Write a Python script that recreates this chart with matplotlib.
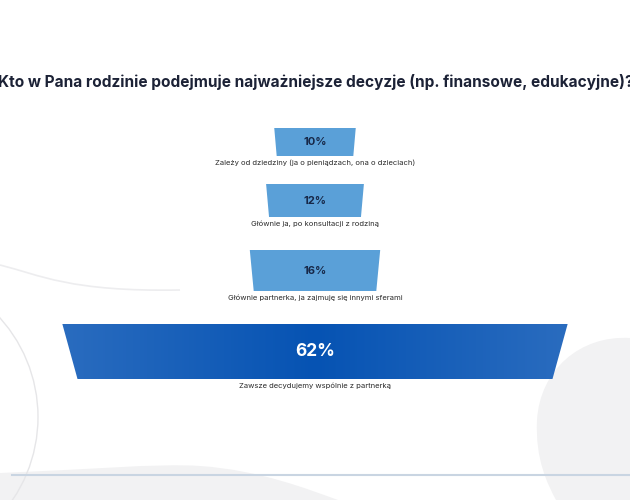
import numpy as np
import matplotlib
matplotlib.use("Agg")
import matplotlib.pyplot as plt
from matplotlib.patches import Polygon, PathPatch, Circle
from matplotlib.path import Path

plt.rcParams['font.family'] = ['Inter', 'DejaVu Sans']

title = "Kto w Pana rodzinie podejmuje najważniejsze decyzje (np. finansowe, edukacyjne)?"
categories = [
    "Zależy od dziedziny (ja o pieniądzach, ona o dzieciach)",
    "Głównie ja, po konsultacji z rodziną",
    "Głównie partnerka, ja zajmuję się innymi sferami",
    "Zawsze decydujemy wspólnie z partnerką",
]
values = [10, 12, 16, 62]

# layout in pixels (figure is 630x500)
W, H = 630, 500
cx = 315
px_per_pct = 8.15
taper = 0.94
bar_tops = [128, 184, 250, 324]
bar_heights = [28, 33, 41, 55]

fig = plt.figure(figsize=(6.3, 5), dpi=100)
ax = fig.add_axes([0, 0, 1, 1])
ax.set_xlim(0, W)
ax.set_ylim(H, 0)
ax.axis('off')

# background decorations
bg = '#f2f2f3'
blob_r = Path([(630, 338), (580, 335), (540, 370), (537, 420),
               (535, 460), (548, 485), (556, 500), (630, 500), (630, 338)],
              [Path.MOVETO, Path.CURVE4, Path.CURVE4, Path.CURVE4,
               Path.CURVE4, Path.CURVE4, Path.CURVE4, Path.LINETO, Path.CLOSEPOLY])
ax.add_patch(PathPatch(blob_r, fc=bg, ec='none', zorder=0))
blob_l = Path([(0, 473), (80, 470), (160, 463), (200, 466),
               (260, 470), (310, 490), (338, 500), (0, 500), (0, 473)],
              [Path.MOVETO, Path.CURVE4, Path.CURVE4, Path.CURVE4,
               Path.CURVE4, Path.CURVE4, Path.CURVE4, Path.LINETO, Path.CLOSEPOLY])
ax.add_patch(PathPatch(blob_l, fc=bg, ec='none', zorder=0))
ax.add_patch(Circle((-110, 417), 148, fc='none', ec='#e6e6e8', lw=1.0, zorder=0))
wave = Path([(0, 265), (40, 275), (70, 292), (180, 290)],
            [Path.MOVETO, Path.CURVE4, Path.CURVE4, Path.CURVE4])
ax.add_patch(PathPatch(wave, fc='none', ec='#ededef', lw=1.2, zorder=0))
ax.plot([12, W], [475, 475], color='#c9d5e2', lw=1.5, zorder=1)

ax.text(cx + 1, 82, title, ha='center', va='center', fontsize=11.1,
        fontweight='bold', color='#1c2236')

for i, (cat, val) in enumerate(zip(categories, values)):
    top_w = val * px_per_pct
    bot_w = top_w * taper
    y0 = bar_tops[i]
    y1 = y0 + bar_heights[i]
    pts = [(cx - top_w / 2, y0), (cx + top_w / 2, y0),
           (cx + bot_w / 2, y1), (cx - bot_w / 2, y1)]
    big = val == max(values)
    if big:
        poly = Polygon(pts, closed=True, fc='none', ec='none')
        ax.add_patch(poly)
        c_edge = np.array([0x2a, 0x6c, 0xbf]) / 255
        c_mid = np.array([0x06, 0x53, 0xb3]) / 255
        t = np.abs(np.linspace(-1, 1, 300))[None, :, None]
        grad = c_mid + (c_edge - c_mid) * t
        im = ax.imshow(grad, extent=(cx - top_w / 2, cx + top_w / 2, y1, y0),
                       aspect='auto', zorder=2, interpolation='bilinear')
        im.set_clip_path(poly)
        ax.text(cx, (y0 + y1) / 2, f"{val}%", ha='center', va='center',
                fontsize=12.5, fontweight='bold', color='white', zorder=3)
    else:
        ax.add_patch(Polygon(pts, closed=True, fc='#5aa0d8', ec='none', zorder=2))
        ax.text(cx, (y0 + y1) / 2, f"{val}%", ha='center', va='center',
                fontsize=8, fontweight='bold', color='#172848', zorder=3)
    ax.text(cx, y1 + 7, cat, ha='center', va='center', fontsize=5.5,
            color='#2b2b2b', zorder=3)

ax.set_xlim(0, W)
ax.set_ylim(H, 0)
fig.savefig('out.png', dpi=100, facecolor='white')
